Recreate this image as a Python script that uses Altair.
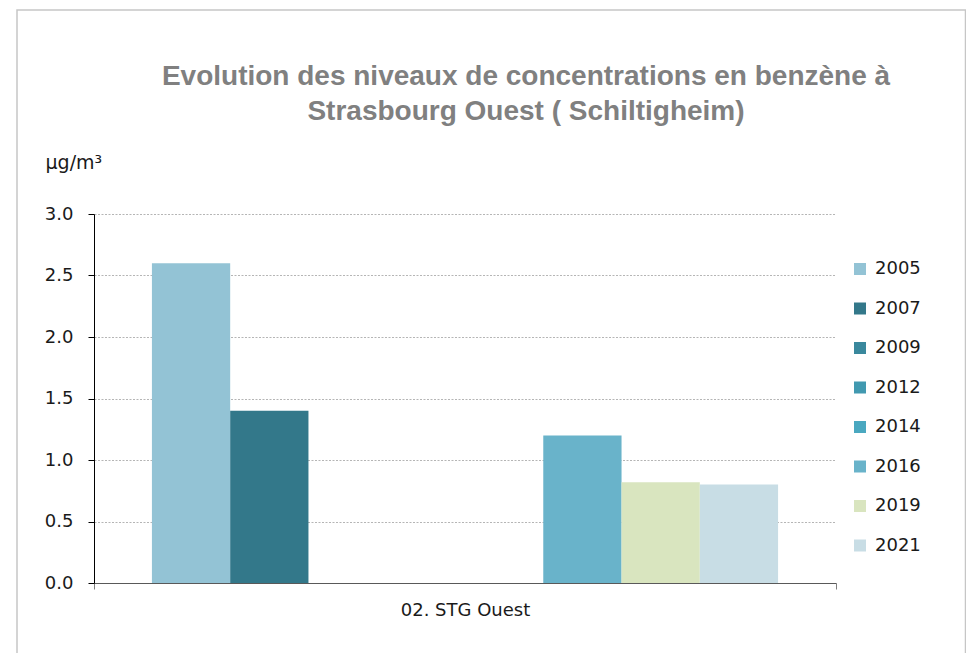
import altair as alt
import pandas as pd

station = "02. STG Ouest"
years = ["2005", "2007", "2009", "2012", "2014", "2016", "2019", "2021"]
colors = ["#93c3d5", "#33788a", "#3a889d", "#4199b0", "#4aa8c0", "#69b3ca", "#d9e5bf", "#c8dde5"]
bar_years = ["2005", "2007", "2016", "2019", "2021"]
bar_values = [2.6, 1.4, 1.2, 0.82, 0.8]
y_ticks = [0, 0.5, 1.0, 1.5, 2.0, 2.5, 3.0]

df = pd.DataFrame({"station": [station] * len(bar_years), "year": bar_years, "value": bar_values})

FONT = "DejaVu Sans"

frame = alt.Chart(alt.Data(values=[{"k": 1}])).mark_rect(
    fillOpacity=0, stroke="#c6c6c6", strokeWidth=1.5, clip=False
).encode(
    x=alt.value(-77), x2=alt.value(871.5), y=alt.value(-204), y2=alt.value(460)
)

bars = alt.Chart(df).mark_bar().encode(
    x=alt.X(
        "station:N", title=None,
        scale=alt.Scale(paddingInner=0, paddingOuter=0),
        axis=alt.Axis(labelAngle=0, tickBand="extent", tickSize=6, tickColor="#7f7f7f",
                      domainColor="#595959", labelFont=FONT, labelFontSize=18,
                      labelColor="#1a1a1a", labelPadding=12, grid=False),
    ),
    xOffset=alt.XOffset("year:N", scale=alt.Scale(domain=years, paddingInner=0, paddingOuter=0.74)),
    y=alt.Y(
        "value:Q",
        scale=alt.Scale(domain=[0, 3], nice=False),
        axis=alt.Axis(values=y_ticks, format=".1f", title="µg/m³", titleAngle=0,
                      titleX=-49, titleY=-46, titleAlign="left", titleBaseline="alphabetic",
                      titleFont=FONT, titleFontSize=19, titleFontWeight="normal",
                      titleColor="#1a1a1a",
                      labelFont=FONT, labelFontSize=18, labelColor="#1a1a1a",
                      labelPadding=15, tickSize=6, tickColor="#000000",
                      domainColor="#000000", gridColor="#b5b5b5", gridDash=[2, 1.5]),
    ),
    color=alt.Color(
        "year:N",
        scale=alt.Scale(domain=years, range=colors),
        legend=alt.Legend(title=None, orient="none", legendX=757, legendY=46,
                          symbolType="square", symbolSize=144, symbolStrokeWidth=0,
                          labelFont=FONT, labelFontSize=18, labelColor="#1a1a1a",
                          labelOffset=6, rowPadding=21.5, padding=0),
    ),
)

chart = alt.layer(frame, bars).properties(
    width=742,
    height=369,
    autosize=alt.AutoSizeParams(type="none"),
    padding={"left": 86, "top": 206, "right": 130, "bottom": 70},
    title=alt.Title(
        ["Evolution des niveaux de concentrations en benzène à", "Strasbourg Ouest ( Schiltigheim)"],
        font="Liberation Sans", fontSize=28, fontWeight="bold", color="#808080",
        anchor="middle", frame="group", dx=61, offset=0, dy=117, lineHeight=35,
    ),
).configure_view(stroke=None)

chart.save("out.html", embed_options={"renderer": "svg", "actions": False})
